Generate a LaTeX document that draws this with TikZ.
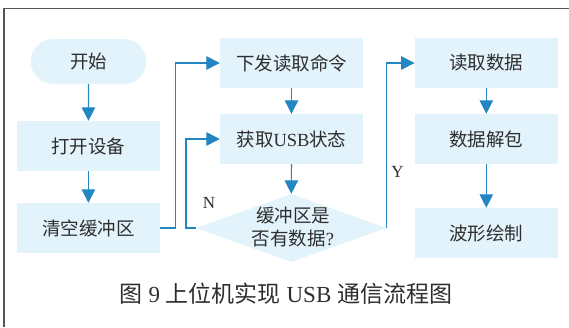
\documentclass[tikz,border=0pt]{standalone}
\usepackage{fontspec}
\setmainfont{Liberation Serif}
\newfontfamily\cjk{Noto Sans CJK SC}
\usetikzlibrary{arrows.meta,shapes.geometric}
\definecolor{boxfill}{HTML}{E2F3FC}
\definecolor{arrblue}{HTML}{2386C3}
\definecolor{txt}{HTML}{2E2E2E}
\definecolor{frame}{HTML}{555555}
\tikzset{
  box/.style={fill=boxfill, draw=none, minimum width=143pt, minimum height=50pt, inner sep=0pt, text=txt, font=\fontsize{18.5}{22}\selectfont},
  capsule/.style={fill=boxfill, draw=none, rounded corners=22.5pt, minimum width=115.5pt, minimum height=45pt, inner sep=0pt, text=txt, font=\fontsize{18.5}{22}\selectfont},
  decision/.style={diamond, fill=boxfill, draw=none, aspect=2.8, minimum width=190.5pt, minimum height=68pt, inner sep=0pt},
  dtext/.style={text=txt, align=center, inner sep=0pt, font=\fontsize{18.5}{23}\selectfont},
  arr/.style={draw=arrblue, line width=1.2pt, -{Triangle[length=13.5pt,width=13.5pt]}},
  lbl/.style={text=txt, font=\fontsize{17}{20}\selectfont, inner sep=0pt}
}
\begin{document}
\begin{tikzpicture}[x=1pt,y=-1pt]
\useasboundingbox (0,0) rectangle (569,327);
\draw[frame, line width=1.5pt] (569,8.3) -- (4,8.3) -- (4,327);
\node[capsule] (start) at (88.5,61.5) {\cjk 开始};
\node[box] (open) at (88.4,146) {\cjk 打开设备};
\node[box] (clear) at (88.4,228) {\cjk 清空缓冲区};
\node[box] (send) at (291.5,63) {\cjk 下发读取命令};
\node[box] (state) at (291.5,139) {{\cjk 获取}USB{\cjk 状态}};
\node[decision] (dia) at (291.3,228) {};
\node[dtext] (diatext) at (293,227) {{\cjk 缓冲区是}\\{\cjk 否有数据}?};
\node[box] (read) at (486.3,63) {\cjk 读取数据};
\node[box] (unpack) at (486.3,139) {\cjk 数据解包};
\node[box] (plot) at (486.3,233) {\cjk 波形绘制};
\draw[arr] (start) -- (open);
\draw[arr] (open) -- (clear);
\draw[arr] (clear.east) -- ++(15.6,0) |- (send.west);
\draw[arr] (send) -- (state);
\draw[arr] (state) -- (dia.north);
\draw[arr] (dia.west) -- ++(-9.8,0) |- (state.west);
\draw[arr] (dia.east) |- (read.west);
\draw[arr] (read) -- (unpack);
\draw[arr] (unpack) -- (plot);
\node[lbl] (nlab) at (209,202.5) {N};
\node[lbl] (ylab) at (397.4,172) {Y};
\node[text=txt, font=\fontsize{23}{26}\selectfont, inner sep=0pt] (cap) at (286,294) {{\cjk 图} 9 {\cjk 上位机实现} USB {\cjk 通信流程图}};
\end{tikzpicture}
\end{document}
